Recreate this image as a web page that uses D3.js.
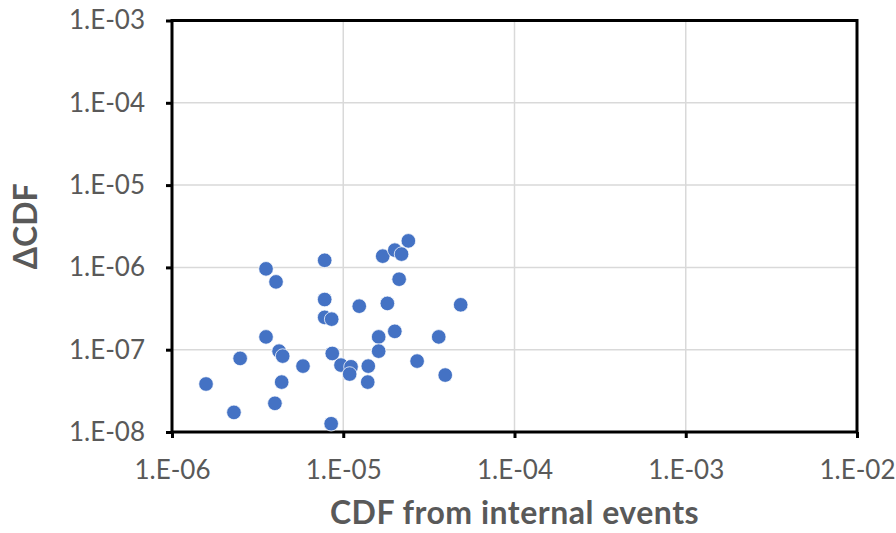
<html>
<head>
<script src="https://d3js.org/d3.v7.min.js"></script>
</head>
<body style="margin:0;background:#fff">
<div id="chart"></div>
<script>
// CDF from internal events (x) vs delta CDF (y)
var cdfInternal = [1.58e-6, 2.30e-6, 2.50e-6, 3.54e-6, 4.05e-6, 3.54e-6, 4.22e-6, 4.43e-6, 3.99e-6, 4.37e-6,
    5.82e-6, 7.79e-6, 7.79e-6, 7.79e-6, 8.56e-6, 8.63e-6, 8.5e-6, 9.7e-6, 1.11e-5, 1.09e-5,
    1.24e-5, 1.40e-5, 1.39e-5, 1.61e-5, 1.61e-5, 1.70e-5, 1.81e-5, 2.0e-5, 2.0e-5, 2.19e-5,
    2.12e-5, 2.40e-5, 2.70e-5, 3.61e-5, 3.94e-5, 4.85e-5];
var deltaCdf = [3.83e-8, 1.73e-8, 7.84e-8, 9.6e-7, 6.67e-7, 1.43e-7, 9.6e-8, 8.36e-8, 2.23e-8, 4.04e-8,
    6.32e-8, 1.22e-6, 4.07e-7, 2.47e-7, 2.35e-7, 9.0e-8, 1.26e-8, 6.5e-8, 6.2e-8, 5.06e-8,
    3.38e-7, 6.32e-8, 4.04e-8, 1.43e-7, 9.6e-8, 1.37e-6, 3.65e-7, 1.67e-7, 1.62e-6, 1.45e-6,
    7.19e-7, 2.1e-6, 7.27e-8, 1.43e-7, 4.92e-8, 3.51e-7];
var xTicks = [1e-6, 1e-5, 1e-4, 1e-3, 1e-2];
var yTicks = [1e-8, 1e-7, 1e-6, 1e-5, 1e-4, 1e-3];

var data = cdfInternal.map(function(d, i) { return {x: d, y: deltaCdf[i]}; });

var width = 896, height = 533;
var plot = {left: 172, right: 857, top: 20.5, bottom: 432};

var svg = d3.select("#chart")
    .append("svg")
    .attr("width", width)
    .attr("height", height);

var x = d3.scaleLog()
    .domain([1e-6, 1e-2])
    .range([plot.left, plot.right]);

var y = d3.scaleLog()
    .domain([1e-8, 1e-3])
    .range([plot.bottom, plot.top]);

function fmt(d) {
    var e = Math.round(Math.log10(d));
    return "1.E-" + (-e < 10 ? "0" : "") + (-e);
}

// gridlines
svg.append("g")
    .selectAll("line")
    .data(xTicks)
    .enter()
    .append("line")
    .attr("x1", function(d) { return x(d); })
    .attr("x2", function(d) { return x(d); })
    .attr("y1", plot.top)
    .attr("y2", plot.bottom)
    .style("stroke", "#d9d9d9")
    .style("stroke-width", 1.5);

svg.append("g")
    .selectAll("line")
    .data(yTicks)
    .enter()
    .append("line")
    .attr("x1", plot.left)
    .attr("x2", plot.right)
    .attr("y1", function(d) { return y(d); })
    .attr("y2", function(d) { return y(d); })
    .style("stroke", "#d9d9d9")
    .style("stroke-width", 1.5);

// axes
var xAxis = svg.append("g")
    .attr("transform", "translate(0," + plot.bottom + ")")
    .call(d3.axisBottom(x).tickValues(xTicks).tickFormat(fmt).tickSize(6).tickPadding(23));

var yAxis = svg.append("g")
    .attr("transform", "translate(" + plot.left + ",0)")
    .call(d3.axisLeft(y).tickValues(yTicks).tickFormat(fmt).tickSize(6).tickPadding(21));

[xAxis, yAxis].forEach(function(a) {
    a.select(".domain").remove();
    a.selectAll(".tick line").style("stroke", "#000").style("stroke-width", 3);
    a.selectAll(".tick text")
        .style("font-family", "Lato, sans-serif")
        .style("font-size", "26px")
        .style("fill", "#595959");
});

// plot border
svg.append("rect")
    .attr("x", plot.left)
    .attr("y", plot.top)
    .attr("width", plot.right - plot.left)
    .attr("height", plot.bottom - plot.top)
    .style("fill", "none")
    .style("stroke", "#000")
    .style("stroke-width", 3);

// dots
svg.append("g")
    .selectAll("circle")
    .data(data)
    .enter()
    .append("circle")
    .attr("cx", function(d) { return x(d.x); })
    .attr("cy", function(d) { return y(d.y); })
    .attr("r", 7.3)
    .style("fill", "#4472c4")
    .style("stroke", "#fff")
    .style("stroke-width", 0.75);

// axis titles
svg.append("text")
    .attr("x", (plot.left + plot.right) / 2)
    .attr("y", 524)
    .style("text-anchor", "middle")
    .style("font-family", "Lato, sans-serif")
    .style("font-weight", "bold")
    .style("font-size", "32px")
    .style("letter-spacing", "0.5px")
    .style("fill", "#595959")
    .text("CDF from internal events");

svg.append("text")
    .attr("transform", "translate(37," + ((plot.top + plot.bottom) / 2) + ") rotate(-90)")
    .style("text-anchor", "middle")
    .style("font-family", "Lato, sans-serif")
    .style("font-weight", "bold")
    .style("font-size", "32px")
    .style("fill", "#595959")
    .text("\u0394CDF");
</script>
</body>
</html>
